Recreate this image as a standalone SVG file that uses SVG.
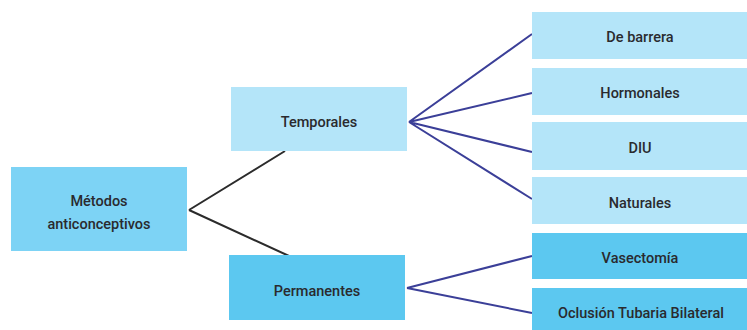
<svg xmlns="http://www.w3.org/2000/svg" width="747" height="330" viewBox="0 0 747 330">
<style>
text{font-family:Roboto,"Liberation Sans",sans-serif;font-size:14.5px;font-weight:500;fill:#2a2a2e;text-anchor:middle}
.l1{fill:#b4e5f9}
.l2{fill:#7dd3f5}
.l3{fill:#5cc8f0}
.gray{stroke:#2b2b2b;stroke-width:2;fill:none}
.blue{stroke:#3b3f98;stroke-width:2;fill:none}
</style>
<rect width="747" height="330" fill="#fff"/>
<g id="connectors">
<path class="gray" d="M189 210 L285 151 M189 210 L289 256"/>
<path class="blue" d="M409 122 L532 34 M409 122 L532 93 M409 122 L532 152 M409 122 L532 199"/>
<path class="blue" d="M407 288 L532 256 M407 288 L532 313"/>
</g>
<g id="metodos"><rect class="l2" x="11" y="167" width="176" height="84"/><text x="99" y="206">Métodos</text><text x="99" y="229">anticonceptivos</text></g>
<g id="temporales"><rect class="l1" x="231" y="87" width="176" height="64"/><text x="319" y="127">Temporales</text></g>
<g id="permanentes"><rect class="l3" x="229" y="255" width="176" height="65"/><text x="317" y="296">Permanentes</text></g>
<g id="barrera"><rect class="l1" x="532" y="12" width="215" height="47"/><text x="640" y="42">De barrera</text></g>
<g id="hormonales"><rect class="l1" x="532" y="68" width="215" height="47"/><text x="640" y="98">Hormonales</text></g>
<g id="diu"><rect class="l1" x="532" y="122" width="215" height="48"/><text x="640" y="153">DIU</text></g>
<g id="naturales"><rect class="l1" x="532" y="177" width="215" height="47"/><text x="640" y="208">Naturales</text></g>
<g id="vasectomia"><rect class="l3" x="532" y="233" width="215" height="46"/><text x="640" y="263">Vasectomía</text></g>
<g id="oclusion"><rect class="l3" x="532" y="288" width="215" height="42"/><text x="641" y="318">Oclusión Tubaria Bilateral</text></g>
</svg>
